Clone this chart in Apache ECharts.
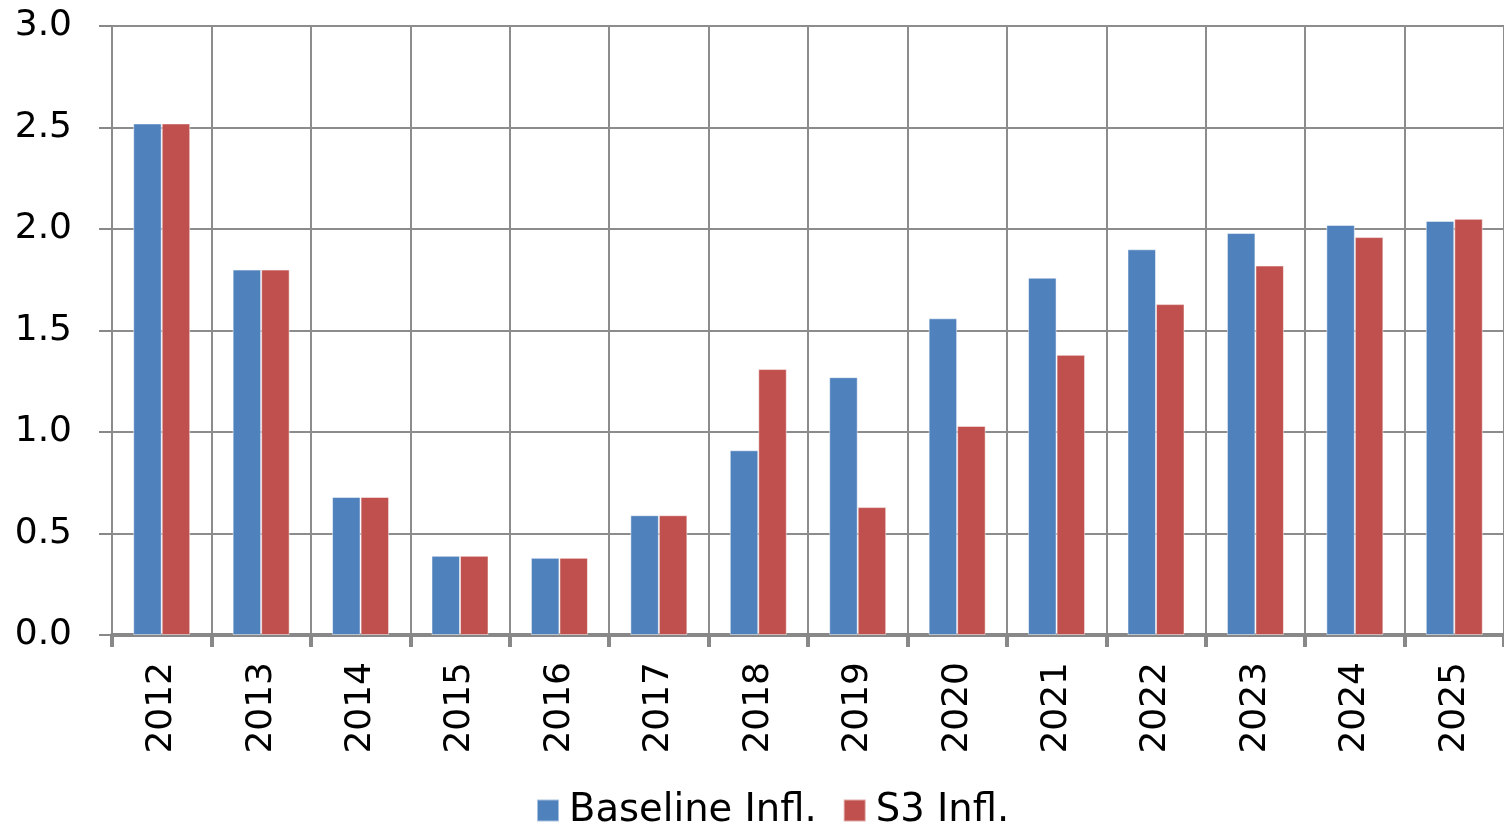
<!DOCTYPE html>
<html><head><meta charset="utf-8">
<script src="https://cdn.jsdelivr.net/npm/echarts@6/dist/echarts.min.js"></script>
<style>html,body{margin:0;padding:0;background:#fff}#c{width:1504px;height:829px}</style>
</head><body><div id="c"></div>
<script>
const categories = ['2012','2013','2014','2015','2016','2017','2018','2019','2020','2021','2022','2023','2024','2025'];
const baseline = [2.52, 1.80, 0.68, 0.39, 0.38, 0.59, 0.91, 1.27, 1.56, 1.76, 1.90, 1.98, 2.02, 2.04];
const s3 = [2.52, 1.80, 0.68, 0.39, 0.38, 0.59, 1.31, 0.63, 1.03, 1.38, 1.63, 1.82, 1.96, 2.05];
const seriesNames = ['Baseline Infl.', 'S3 Infl.'];
const FONT = 'DejaVu Sans';
const chart = echarts.init(document.getElementById('c'));
chart.setOption({
  animation: false,
  textStyle: { fontFamily: FONT },
  grid: { left: 112, width: 1397, top: 26, bottom: 194 },
  legend: {
    top: 786, left: 531,
    itemWidth: 22, itemHeight: 22, itemGap: 26,
    icon: 'rect',
    textStyle: { fontFamily: FONT, fontSize: 38.5, color: '#000', padding: [0,0,0,5] },
    data: seriesNames
  },
  xAxis: {
    type: 'category', data: categories,
    axisLine: { lineStyle: { color: '#888', width: 4 } },
    axisTick: { show: true, length: 12, interval: 0, lineStyle: { color: '#888', width: 4 } },
    splitLine: { show: true, interval: 0, lineStyle: { color: '#8c8c8c', width: 2 } },
    axisLabel: { rotate: 90, margin: 27, fontSize: 36, color: '#000', fontFamily: FONT, interval: 0 }
  },
  yAxis: {
    type: 'value', min: 0, max: 3, interval: 0.5,
    axisLine: { show: false },
    axisTick: { show: true, length: 13, lineStyle: { color: '#888', width: 2 } },
    splitLine: { show: true, lineStyle: { color: '#8c8c8c', width: 2 } },
    axisLabel: { margin: 40, fontSize: 36, color: '#000', fontFamily: FONT, formatter: v => v.toFixed(1) }
  },
  series: [
    { name: seriesNames[0], type: 'bar', data: baseline, barWidth: 28.5, barGap: '0%',
      itemStyle: { color: '#4F81BD', borderColor: 'rgba(255,255,255,0.5)', borderWidth: 1 } },
    { name: seriesNames[1], type: 'bar', data: s3, barWidth: 28.5, barGap: '0%',
      itemStyle: { color: '#C0504D', borderColor: 'rgba(255,255,255,0.5)', borderWidth: 1 } }
  ]
});
</script></body></html>
